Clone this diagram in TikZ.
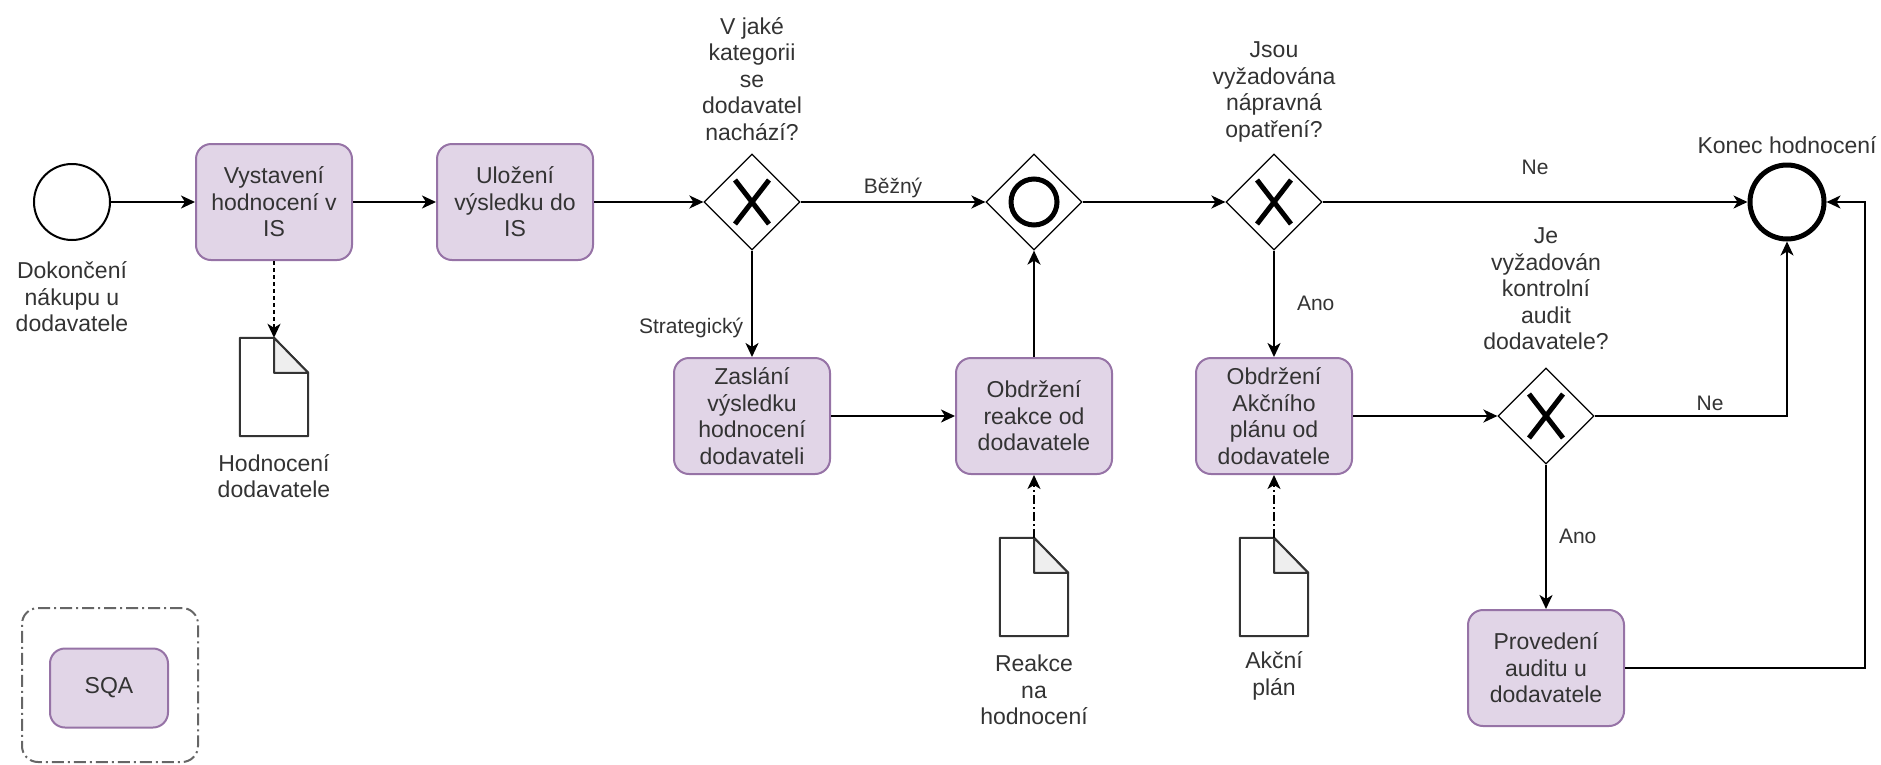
\documentclass[tikz,border=0pt]{standalone}
\usepackage{fontspec}
\setmainfont{Liberation Sans}
\usepackage{tikz}
\usetikzlibrary{arrows.meta,shapes.geometric}

\definecolor{taskfill}{HTML}{E1D5E7}
\definecolor{taskline}{HTML}{9673A6}
\definecolor{txt}{HTML}{333333}
\definecolor{foldfill}{HTML}{EEEEEE}

\newcommand{\gatex}[1]{\draw[line width=5pt] ([xshift=-17pt,yshift=22pt]#1.center) -- ([xshift=17pt,yshift=-22pt]#1.center) ([xshift=-17pt,yshift=-22pt]#1.center) -- ([xshift=17pt,yshift=22pt]#1.center);}
\newcommand{\docshape}[1]{%
\draw[line width=2pt,draw=black!80,fill=white,line join=round] (#1.north west) -- (#1.north) -- ([yshift=-35pt]#1.north east) -- (#1.south east) -- (#1.south west) -- cycle;
\draw[line width=2pt,draw=black!80,fill=foldfill,line join=round] (#1.north) -- ([yshift=-35pt]#1.north) -- ([yshift=-35pt]#1.north east) -- cycle;}

\begin{document}
\begin{tikzpicture}[x=1pt,y=-1pt,font=\fontsize{23pt}{26.5pt}\selectfont]
\tikzstyle{task}=[rectangle,rounded corners=15pt,draw=taskline,fill=taskfill,line width=2pt,minimum width=156pt,minimum height=116pt,align=center,text=txt,inner sep=2pt]
\tikzstyle{gw}=[diamond,draw,line width=1.2pt,minimum width=96pt,minimum height=96pt,inner sep=0pt]
\tikzstyle{startev}=[circle,draw,line width=2pt,minimum size=76pt,inner sep=0pt]
\tikzstyle{endev}=[circle,draw,line width=5pt,minimum size=74pt,inner sep=0pt]
\tikzstyle{doc}=[rectangle,minimum width=68pt,minimum height=98pt,inner sep=0pt]
\tikzstyle{lbl}=[align=center,text=txt,inner sep=2pt]
\tikzstyle{elbl}=[font=\fontsize{21pt}{25pt}\selectfont,text=txt,inner sep=2pt]
\tikzstyle{flow}=[line width=2pt,-{Stealth[length=14pt,width=13pt,inset=4pt]}]
\tikzstyle{dotassoc}=[line width=2pt,dash pattern=on 4pt off 3pt,-{Stealth[length=14pt,width=13pt,inset=4pt]}]
\tikzstyle{dashassoc}=[line width=2pt,dash pattern=on 9pt off 3pt on 2pt off 3pt,-{Stealth[length=14pt,width=13pt,inset=4pt]}]
\tikzstyle{grp}=[rectangle,draw=black!60,line width=2pt,rounded corners=16pt,dash pattern=on 12pt off 4pt on 2pt off 4pt,minimum width=176pt,minimum height=154pt]

\useasboundingbox (0,0) rectangle (1881,764);

\node[startev] (start) at (72,202) {};
\node[lbl] (startlbl) at (72,297) {Dokončení\\nákupu u\\dodavatele};
\node[task] (t1) at (274,202) {Vystavení\\hodnocení v\\IS};
\node[task] (t2) at (515,202) {Uložení\\výsledku do\\IS};
\node[gw] (g1) at (752,202) {};
\node[lbl] (g1lbl) at (752,79) {V jaké\\kategorii\\se\\dodavatel\\nachází?};
\node[gw] (g2) at (1034,202) {};
\node[gw] (g3) at (1274,202) {};
\node[lbl] (g3lbl) at (1274,92) {Jsou\\vyžadována\\nápravná\\opatření?};
\node[endev] (end) at (1787,202) {};
\node[lbl] (endlbl) at (1787,145) {Konec hodnocení};
\node[task] (t3) at (752,416) {Zaslání\\výsledku\\hodnocení\\dodavateli};
\node[task] (t4) at (1034,416) {Obdržení\\reakce od\\dodavatele};
\node[task] (t5) at (1274,416) {Obdržení\\Akčního\\plánu od\\dodavatele};
\node[gw] (g4) at (1546,416) {};
\node[lbl] (g4lbl) at (1546,289) {Je\\vyžadován\\kontrolní\\audit\\dodavatele?};
\node[task] (t6) at (1546,668) {Provedení\\auditu u\\dodavatele};
\coordinate (rgt) at (1865,668);

\node[doc] (d1) at (274,387) {};
\node[lbl] (d1lbl) at (274,476) {Hodnocení\\dodavatele};
\node[doc] (d2) at (1034,587) {};
\node[lbl] (d2lbl) at (1034,690) {Reakce\\na\\hodnocení};
\node[doc] (d3) at (1274,587) {};
\node[lbl] (d3lbl) at (1274,676) {Akční\\plán};
\docshape{d1}
\docshape{d2}
\docshape{d3}

\node[grp] (grp) at (110,685) {};
\node[task,minimum width=118pt,minimum height=79pt] (sqa) at (109,688) {SQA};

\gatex{g1}
\gatex{g3}
\gatex{g4}
\draw[line width=5pt] (g2.center) circle (23pt);

\draw[flow] (start) -- (t1);
\draw[flow] (t1) -- (t2);
\draw[flow] (t2) -- (g1);
\draw[flow] (g1) -- node[elbl,above=1pt] (bezny) {Běžný} (g2);
\draw[flow] (g1) -- node[elbl,pos=0.73,left=6pt] (strat) {Strategický} (t3);
\draw[flow] (t3) -- (t4);
\draw[flow] (t4) -- (g2);
\draw[flow] (g2) -- (g3);
\draw[flow] (g3) -- node[elbl,above=24pt] (ne1) {Ne} (end);
\draw[flow] (g3) -- node[elbl,right=20pt] (ano1) {Ano} (t5);
\draw[flow] (t5) -- (g4);
\draw[flow] (g4) -| node[elbl,pos=0.3,above=2pt] (ne2) {Ne} (end);
\draw[flow] (g4) -- node[elbl,right=10pt] (ano2) {Ano} (t6);
\draw[flow] (t6) -- (rgt) |- (end);

\draw[dotassoc] (t1) -- (d1);
\draw[dashassoc] (d2) -- (t4);
\draw[dashassoc] (d3) -- (t5);
\end{tikzpicture}
\end{document}
